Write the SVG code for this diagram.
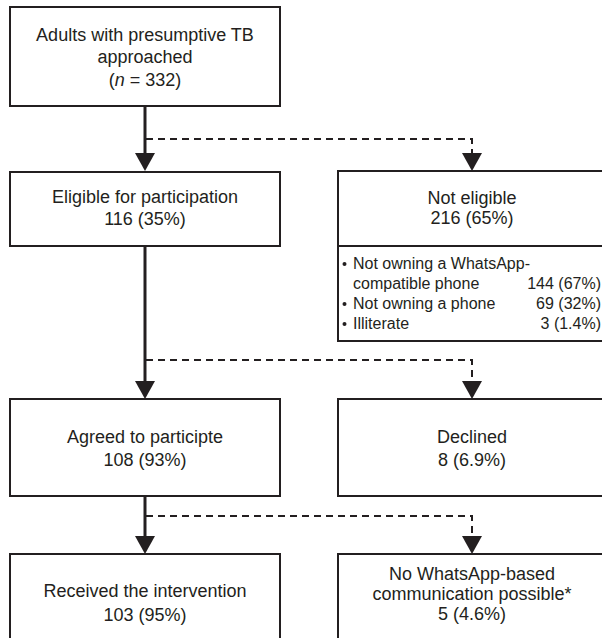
<svg xmlns="http://www.w3.org/2000/svg" width="602" height="638" viewBox="0 0 602 638">
<defs>
<style>
.box{fill:#fff;stroke:#231f20;stroke-width:2}
.t{font-family:"Liberation Sans",Arial,sans-serif;font-size:18px;fill:#231f20;text-anchor:middle}
.l{font-family:"Liberation Sans",Arial,sans-serif;font-size:16px;fill:#231f20}
.r{text-anchor:end}
.solid{stroke:#231f20;stroke-width:3;fill:none}
.dash{stroke:#231f20;stroke-width:2;stroke-dasharray:7 5;fill:none}
.head{fill:#231f20}
</style>
</defs>
<rect width="602" height="638" fill="#fff"/>
<g id="connectors">
<path class="solid" d="M145 106V154"/>
<polygon class="head" points="135,153 155,153 145,171"/>
<path class="dash" d="M146 139H472V154"/>
<polygon class="head" points="462,153 482,153 472,171"/>
<path class="solid" d="M145 246V382"/>
<polygon class="head" points="135,381 155,381 145,399"/>
<path class="dash" d="M146 360H472V382"/>
<polygon class="head" points="462,381 482,381 472,399"/>
<path class="solid" d="M145 496V537"/>
<polygon class="head" points="135,536 155,536 145,554"/>
<path class="dash" d="M146 516H472V537"/>
<polygon class="head" points="462,536 482,536 472,554"/>
</g>
<g id="approached">
<rect class="box" x="10" y="7" width="270" height="99"/>
<text class="t" x="145" y="41">Adults with presumptive TB</text>
<text class="t" x="145" y="63">approached</text>
<text class="t" x="145" y="86">(<tspan font-style="italic">n</tspan> = 332)</text>
</g>
<g id="eligible">
<rect class="box" x="10" y="172" width="270" height="74"/>
<text class="t" x="145" y="203">Eligible for participation</text>
<text class="t" x="145" y="225">116 (35%)</text>
</g>
<g id="not-eligible">
<rect class="box" x="338" y="171" width="270" height="170"/>
<line x1="338" y1="246" x2="608" y2="246" stroke="#231f20" stroke-width="2"/>
<text class="t" x="472" y="204">Not eligible</text>
<text class="t" x="472" y="224">216 (65%)</text>
<circle cx="344.5" cy="264" r="2" fill="#231f20"/>
<text class="l" x="353" y="269">Not owning a WhatsApp-</text>
<text class="l" x="353" y="289">compatible phone</text>
<text class="l r" x="601" y="289">144 (67%)</text>
<circle cx="344.5" cy="304" r="2" fill="#231f20"/>
<text class="l" x="353" y="309">Not owning a phone</text>
<text class="l r" x="601" y="309">69 (32%)</text>
<circle cx="344.5" cy="324" r="2" fill="#231f20"/>
<text class="l" x="353" y="329">Illiterate</text>
<text class="l r" x="601" y="329">3 (1.4%)</text>
</g>
<g id="agreed">
<rect class="box" x="10" y="399" width="270" height="97"/>
<text class="t" x="145" y="443">Agreed to participte</text>
<text class="t" x="145" y="466">108 (93%)</text>
</g>
<g id="declined">
<rect class="box" x="338" y="399" width="270" height="97"/>
<text class="t" x="472" y="443">Declined</text>
<text class="t" x="472" y="466">8 (6.9%)</text>
</g>
<g id="received">
<rect class="box" x="10" y="554" width="270" height="100"/>
<text class="t" x="145" y="597">Received the intervention</text>
<text class="t" x="145" y="621">103 (95%)</text>
</g>
<g id="no-whatsapp">
<rect class="box" x="338" y="554" width="270" height="100"/>
<text class="t" x="472" y="580">No WhatsApp-based</text>
<text class="t" x="472" y="600">communication possible*</text>
<text class="t" x="472" y="620">5 (4.6%)</text>
</g>
</svg>
